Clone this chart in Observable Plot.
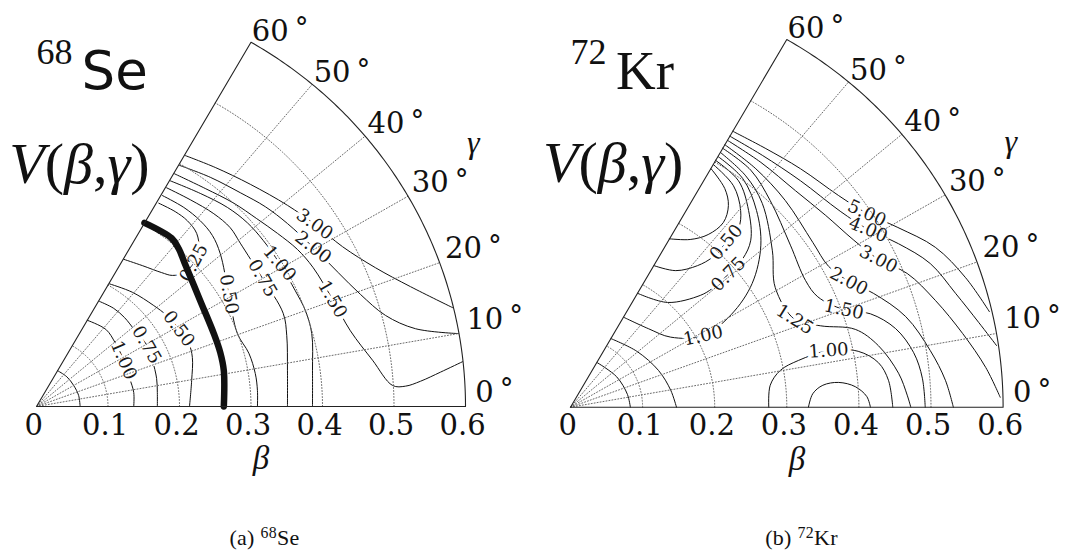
<!DOCTYPE html>
<html><head><meta charset="utf-8">
<script src="https://cdn.jsdelivr.net/npm/d3@7"></script>
<script src="https://cdn.jsdelivr.net/npm/@observablehq/plot@0.6"></script>
<style>
body{margin:0;background:#fff;}
#wrap{position:relative;width:1070px;height:552px;overflow:hidden;background:#fff;}
#wrap svg{position:absolute;top:0;}
.cap{position:absolute;top:526px;width:535px;text-align:center;font-family:"Liberation Serif",serif;font-size:22px;letter-spacing:0.3px;color:#111;line-height:24px;}
.cap sup{font-size:0.72em;vertical-align:0.42em;line-height:0;}
</style></head><body>
<div id="wrap">
<div class="cap" style="left:-3px">(a) <sup>68</sup>Se</div>
<div class="cap" style="left:534px">(b) <sup>72</sup>Kr</div>
</div>
<script>
// ---- axis ticks ----
const betaTicks = [0, 0.1, 0.2, 0.3, 0.4, 0.5, 0.6];
const betaTickLabels = ["0", "0.1", "0.2", "0.3", "0.4", "0.5", "0.6"];
const gammaTicks = [0, 10, 20, 30, 40, 50, 60];

// ---- 68Se contours: points are [beta*cos(gamma), beta*sin(gamma)] ----
const se68Contours = [
  {level: "0.25", pts: [[0.171,0.290],[0.194,0.278],[0.211,0.265],[0.224,0.247],[0.227,0.225],[0.220,0.205],[0.207,0.191],[0.190,0.187],[0.175,0.191],[0.148,0.201],[0.122,0.210]]},
  {level: "0.50", pts: [[0.102,0.175],[0.134,0.163],[0.164,0.144],[0.182,0.130],[0.199,0.111],[0.213,0.090],[0.218,0.070],[0.217,0.037],[0.214,0]]},
  {level: "0.75", pts: [[0.088,0.150],[0.108,0.140],[0.123,0.127],[0.138,0.108],[0.154,0.088],[0.162,0.066],[0.168,0.040],[0.169,0.020],[0.169,0]]},
  {level: "1.00", pts: [[0.071,0.123],[0.097,0.110],[0.110,0.091],[0.122,0.066],[0.130,0.041],[0.136,0.020],[0.136,0]]},
  {level: "1.50", pts: [[0.0295,0.0511],[0.0424,0.0424],[0.052,0.030],[0.0589,0.0158],[0.061,0]]},
  {level: "0.50", pts: [[0.176,0.301],[0.206,0.284],[0.229,0.265],[0.246,0.244],[0.257,0.218],[0.269,0.160],[0.281,0.104],[0.297,0.076],[0.306,0.047],[0.309,0.023],[0.309,0]]},
  {level: "0.75", pts: [[0.182,0.312],[0.215,0.295],[0.248,0.275],[0.271,0.255],[0.285,0.233],[0.316,0.183],[0.345,0.133],[0.350,0.101],[0.351,0.051],[0.351,0]]},
  {level: "1.00", pts: [[0.187,0.322],[0.229,0.304],[0.267,0.284],[0.295,0.262],[0.317,0.237],[0.340,0.204],[0.362,0.165],[0.376,0.137],[0.385,0.104],[0.386,0.051],[0.386,0]]},
  {level: "1.50", pts: [[0.193,0.332],[0.236,0.311],[0.276,0.290],[0.308,0.268],[0.337,0.247],[0.365,0.224],[0.387,0.198],[0.414,0.153],[0.439,0.108],[0.470,0.066],[0.498,0.030],[0.516,0.029],[0.537,0.036],[0.565,0.049],[0.596,0.064]]},
  {level: "2.00", pts: [[0.200,0.344],[0.243,0.327],[0.285,0.305],[0.320,0.285],[0.351,0.261],[0.387,0.227],[0.422,0.191],[0.453,0.160],[0.488,0.130],[0.530,0.111],[0.590,0.104]]},
  {level: "3.00", pts: [[0.208,0.358],[0.250,0.341],[0.299,0.317],[0.351,0.287],[0.389,0.260],[0.428,0.228],[0.474,0.198],[0.523,0.171],[0.582,0.141]]}
];
const se68Valley = [[0.151,0.262],[0.189,0.240],[0.199,0.225],[0.207,0.205],[0.229,0.151],[0.248,0.104],[0.257,0.077],[0.262,0.051],[0.262,0]];
const se68Labels = [
  {text: "0.25", x: 0.220, y: 0.205, rotate: -62},
  {text: "0.50", x: 0.199, y: 0.111, rotate: 53},
  {text: "0.75", x: 0.154, y: 0.088, rotate: 60},
  {text: "1.00", x: 0.122, y: 0.066, rotate: 67},
  {text: "0.50", x: 0.269, y: 0.160, rotate: 80},
  {text: "0.75", x: 0.316, y: 0.183, rotate: 60},
  {text: "1.00", x: 0.340, y: 0.204, rotate: 50},
  {text: "1.50", x: 0.414, y: 0.153, rotate: 60},
  {text: "2.00", x: 0.387, y: 0.227, rotate: 38},
  {text: "3.00", x: 0.389, y: 0.260, rotate: 35}
];

// ---- 72Kr contours ----
const kr72Contours = [
  {level: "2.00", pts: [[0.037,0.063],[0.064,0.043],[0.079,0.018],[0.083,0]]},
  {level: "1.50", pts: [[0.056,0.097],[0.092,0.079],[0.122,0.052],[0.139,0.024],[0.147,0]]},
  {level: "0.25", pts: [[0.195,0.337],[0.214,0.309],[0.219,0.285],[0.212,0.261],[0.191,0.244],[0.166,0.237],[0.137,0.238]]},
  {level: "0.50", pts: [[0.198,0.343],[0.226,0.313],[0.236,0.278],[0.233,0.253],[0.216,0.233],[0.197,0.212],[0.176,0.200],[0.146,0.193],[0.116,0.200]]},
  {level: "0.75", pts: [[0.201,0.349],[0.233,0.320],[0.247,0.278],[0.250,0.236],[0.239,0.210],[0.219,0.188],[0.197,0.168],[0.180,0.158],[0.135,0.148],[0.093,0.161]]},
  {level: "1.00", pts: [[0.205,0.354],[0.239,0.323],[0.258,0.278],[0.264,0.229],[0.252,0.175],[0.223,0.131],[0.184,0.101],[0.139,0.099],[0.108,0.111],[0.074,0.127]]},
  {level: "1.25", pts: [[0.208,0.360],[0.243,0.327],[0.266,0.288],[0.280,0.221],[0.284,0.169],[0.311,0.124],[0.347,0.115],[0.395,0.110],[0.427,0.087],[0.455,0.048],[0.467,0.017],[0.472,0]]},
  {level: "1.50", pts: [[0.211,0.366],[0.250,0.335],[0.277,0.292],[0.305,0.229],[0.326,0.179],[0.343,0.156],[0.379,0.138],[0.416,0.132],[0.451,0.111],[0.476,0.077],[0.488,0.041],[0.492,0]]},
  {level: "2.00", pts: [[0.214,0.371],[0.257,0.337],[0.298,0.292],[0.336,0.233],[0.358,0.199],[0.386,0.178],[0.420,0.161],[0.465,0.128],[0.499,0.080],[0.520,0.038],[0.531,0]]},
  {level: "3.00", pts: [[0.218,0.377],[0.264,0.346],[0.312,0.306],[0.354,0.271],[0.393,0.236],[0.427,0.209],[0.467,0.189],[0.506,0.151],[0.544,0.104],[0.576,0.056],[0.596,0.014]]},
  {level: "4.00", pts: [[0.221,0.383],[0.266,0.356],[0.319,0.320],[0.374,0.277],[0.413,0.251],[0.455,0.231],[0.499,0.203],[0.534,0.161],[0.566,0.120],[0.591,0.087]]},
  {level: "5.00", pts: [[0.225,0.390],[0.270,0.366],[0.319,0.337],[0.372,0.299],[0.411,0.274],[0.454,0.254],[0.506,0.226],[0.548,0.183],[0.581,0.135]]},
  {level: "1.00", pts: [[0.275,0],[0.277,0.031],[0.291,0.052],[0.316,0.066],[0.358,0.080],[0.399,0.079],[0.427,0.063],[0.441,0.038],[0.447,0]]},
  {level: "0.75", pts: [[0.330,0],[0.336,0.019],[0.350,0.031],[0.372,0.035],[0.395,0.029],[0.411,0.015],[0.416,0]]}
];
const kr72Labels = [
  {text: "5.00", x: 0.411, y: 0.274, rotate: 25},
  {text: "4.00", x: 0.413, y: 0.251, rotate: 22},
  {text: "3.00", x: 0.427, y: 0.209, rotate: 27},
  {text: "2.00", x: 0.386, y: 0.178, rotate: 28},
  {text: "1.50", x: 0.379, y: 0.138, rotate: 12},
  {text: "1.25", x: 0.311, y: 0.124, rotate: 32},
  {text: "1.00", x: 0.184, y: 0.101, rotate: -12},
  {text: "1.00", x: 0.358, y: 0.080, rotate: -4},
  {text: "0.50", x: 0.216, y: 0.233, rotate: -50},
  {text: "0.75", x: 0.219, y: 0.188, rotate: -45}
];

const rad = Math.PI / 180;
const polar = (b, g) => [b * Math.cos(g * rad), b * Math.sin(g * rad)];
const serif = "Liberation Serif, Times New Roman, serif";
const wide = "DejaVu Serif, serif";

function drawPanel(s) {
  const innerBetas = betaTicks.filter(b => b > 0 && b < 0.6);
  const innerGammas = gammaTicks.filter(g => g > 0 && g < 60);
  const steps = d3.range(0, 60.001, 0.5);
  const gridArcs = innerBetas.flatMap(b => steps.map(g => ({k: b, p: polar(b, g)})));
  const spokes = innerGammas.flatMap(g => [0, 0.6].map(b => ({k: g, p: polar(b, g)})));
  const outline = [[0, 0], ...steps.map(g => polar(0.6, g)), [0, 0]];
  const lines = s.contours.flatMap((c, i) => c.pts.map(p => ({k: i, p})));
  const X = d => d.p[0], Y = d => d.p[1];
  const marks = [
    Plot.line(lines, {x: X, y: Y, z: "k", curve: "catmull-rom", stroke: "#111", strokeWidth: 1}),
    Plot.text(s.labels, {x: "x", y: "y", text: "text", rotate: "rotate", fontSize: 18, fontFamily: wide, fill: "white", stroke: "white", strokeWidth: 7}),
    Plot.line(gridArcs, {x: X, y: Y, z: "k", stroke: "#6a6a6a", strokeWidth: 1, strokeDasharray: "1,2"}),
    Plot.line(spokes, {x: X, y: Y, z: "k", stroke: "#6a6a6a", strokeWidth: 1, strokeDasharray: "1,2"}),
    Plot.text(s.labels, {x: "x", y: "y", text: "text", rotate: "rotate", fontSize: 18, fontFamily: wide, fill: "#1a1a1a"})
  ];
  if (s.valley) marks.push(Plot.line(s.valley, {x: d => d[0], y: d => d[1], curve: "catmull-rom", stroke: "#111", strokeWidth: 6.5}));
  marks.push(
    Plot.line(outline, {x: d => d[0], y: d => d[1], stroke: "#222", strokeWidth: 1.1}),
    Plot.text(betaTicks, {x: d => d - 0.004, y: () => 0, text: (d, i) => betaTickLabels[i], fontSize: 29, fontFamily: wide, lineAnchor: "bottom", dy: 28, fill: "#111"}),
    Plot.text(gammaTicks, {
      x: g => 0.614 * Math.cos((g + 1.9 - 0.021 * g) * rad),
      y: g => 0.614 * Math.sin((g + 1.9 - 0.021 * g) * rad),
      text: g => g + "°", textAnchor: "start", lineAnchor: "middle", fontSize: 29, fontFamily: wide, fill: "#111"}),
    Plot.text([s.mass], {x: () => 0, y: () => s.massY, text: d => d, textAnchor: "start", lineAnchor: "bottom", fontSize: 36, fontFamily: serif, fill: "#111"}),
    Plot.text([s.element], {x: () => s.elX, y: () => s.elY, text: d => d, textAnchor: "start", lineAnchor: "bottom", fontSize: s.elSize, fontFamily: s.elFont, fill: "#111"}),
    Plot.text(["V(β,γ)"], {x: () => -0.038, y: () => s.vY, text: d => d, textAnchor: "start", lineAnchor: "bottom", fontSize: 58, fontFamily: serif, fontStyle: "italic", fill: "#111"}),
    Plot.text(["γ"], {x: () => 0.602, y: () => 0.361, text: d => d, textAnchor: "start", lineAnchor: "bottom", fontSize: 32, fontFamily: serif, fontStyle: "italic", fill: "#111"}),
    Plot.text(["β"], {x: () => 0.314, y: () => -0.089, text: d => d, lineAnchor: "bottom", fontSize: 33, fontFamily: serif, fontStyle: "italic", fill: "#111"})
  );
  const svg = Plot.plot({
    width: 535, height: 480, margin: 0,
    x: {domain: [0, 0.6], range: [s.ox, s.ox + 0.6 * s.sx], axis: null},
    y: {domain: [0, 0.6], range: [s.oy, s.oy - 0.6 * s.sy], axis: null},
    style: {overflow: "visible", background: "transparent"},
    marks
  });
  // typographic touches: raised degree signs and upright parentheses
  d3.select(svg).selectAll("text").each(function () {
    const t = this.textContent;
    const m = t.match(/^(\d+)°$/);
    const sel = d3.select(this);
    if (m) {
      this.textContent = "";
      sel.append("tspan").text(m[1]);
      sel.append("tspan").attr("font-size", "0.95em").attr("dx", "0.22em").attr("dy", "-0.12em").text("°");
    } else if (t === "V(β,γ)") {
      this.textContent = "";
      [["V", "italic"], ["(", "normal"], ["β", "italic"], [",", "normal"], ["γ", "italic"], [")", "normal"]]
        .forEach(([c, st]) => sel.append("tspan").attr("font-style", st).text(c));
    }
  });
  svg.style.left = s.left + "px";
  return svg;
}

const wrap = document.getElementById("wrap");
wrap.appendChild(drawPanel({
  left: 0, ox: 36, oy: 406, sx: 715, sy: 701,
  contours: se68Contours, labels: se68Labels, valley: se68Valley,
  mass: "68", massY: 0.489, element: "Se", elX: 0.063, elY: 0.4536, elSize: 53, elFont: "DejaVu Sans, sans-serif", vY: 0.3195
}));
wrap.appendChild(drawPanel({
  left: 535, ox: 35, oy: 406.7, sx: 721, sy: 707.6,
  contours: kr72Contours, labels: kr72Labels, valley: null,
  mass: "72", massY: 0.4857, element: "Kr", elX: 0.063, elY: 0.450, elSize: 55, elFont: serif, vY: 0.3176
}));
</script>
</body></html>
